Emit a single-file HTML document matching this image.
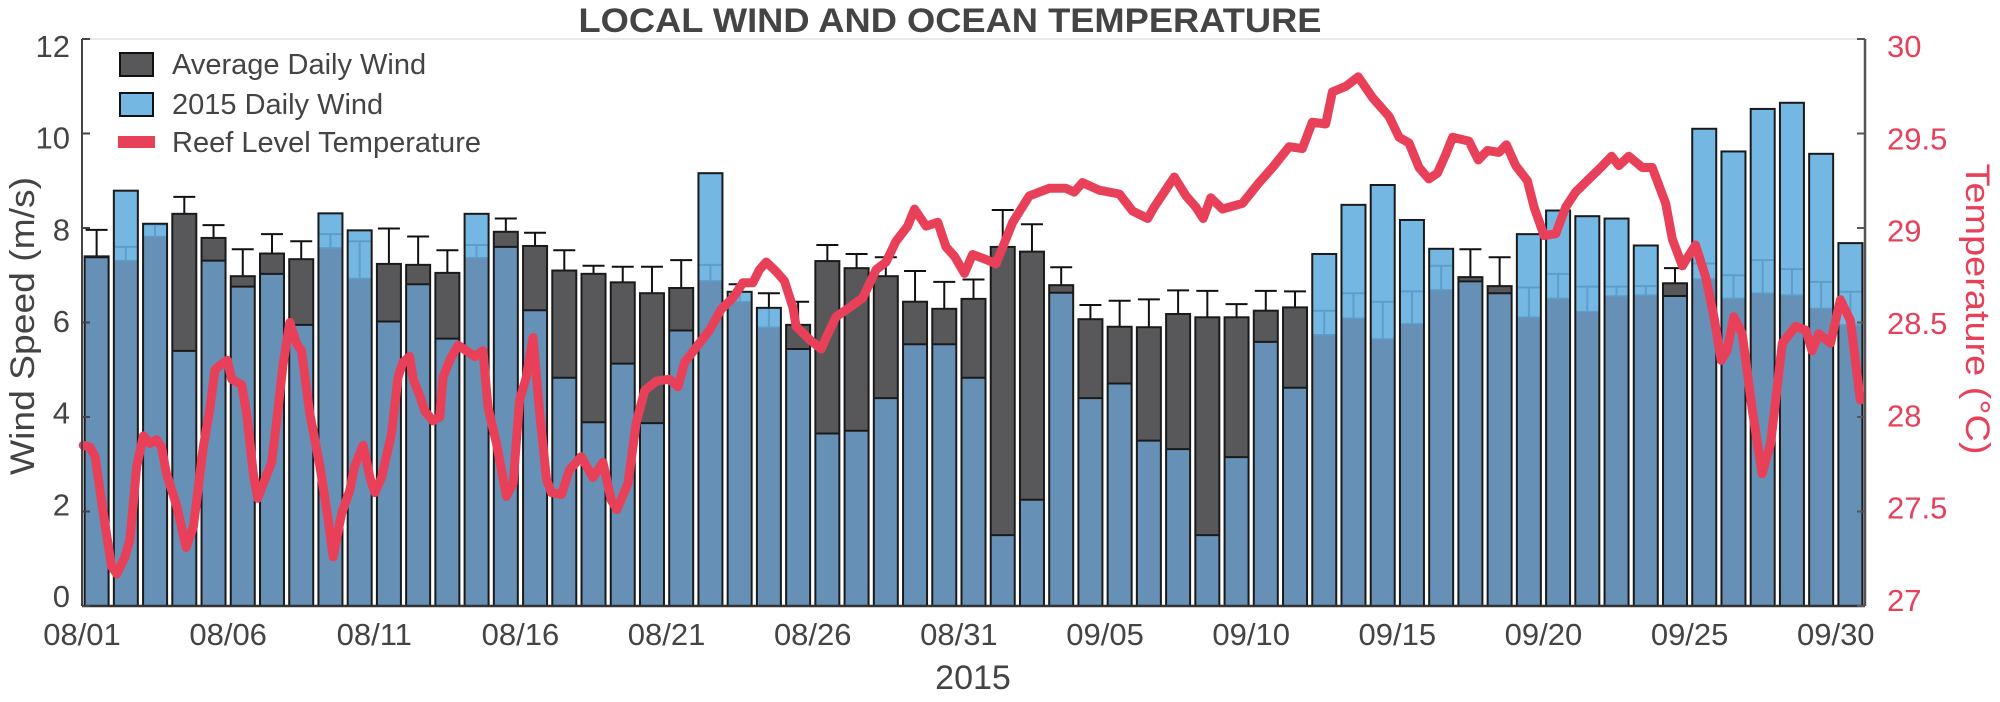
<!DOCTYPE html>
<html><head><meta charset="utf-8"><title>Local Wind and Ocean Temperature</title>
<style>html,body{margin:0;padding:0;background:#fff}svg{display:block}text{font-family:"Liberation Sans",Arial,sans-serif}</style>
</head><body>
<svg id="chart" width="2000" height="702" viewBox="0 0 2000 702" xmlns="http://www.w3.org/2000/svg">
<text x="950" y="32" text-anchor="middle" font-size="34" font-weight="bold" fill="#444" textLength="743" lengthAdjust="spacingAndGlyphs">LOCAL WIND AND OCEAN TEMPERATURE</text>
<g id="bars"></g>
<g id="temp"></g>
<g id="axes"></g>
<text transform="translate(34,326) rotate(-90)" text-anchor="middle" font-size="34" fill="#444" textLength="298" lengthAdjust="spacingAndGlyphs">Wind Speed (m/s)</text>
<text transform="translate(1966,309) rotate(90)" text-anchor="middle" font-size="34" fill="#e9405a" textLength="291" lengthAdjust="spacingAndGlyphs">Temperature (°C)</text>
<text x="973" y="689" text-anchor="middle" font-size="34" fill="#444">2015</text>
<g>
  <g>
    <rect x="120" y="53" width="33" height="23" fill="#58585a" stroke="#111" stroke-width="2"/>
    <text x="172" y="74" font-size="29" fill="#444">Average Daily Wind</text>
  </g>
  <g>
    <rect x="120" y="93" width="33" height="23" fill="#75b7e3" stroke="#111" stroke-width="2"/>
    <text x="172" y="114" font-size="29" fill="#444">2015 Daily Wind</text>
  </g>
  <g>
    <rect x="118" y="136" width="37" height="12" fill="#e9405a"/>
    <text x="172" y="152" font-size="29" fill="#444">Reef Level Temperature</text>
  </g>
</g>
</svg>
<script>
const dayLabels = ["08/01","08/06","08/11","08/16","08/21","08/26","08/31","09/05","09/10","09/15","09/20","09/25","09/30"];
const dayTickIdx = [0,5,10,15,20,25,30,35,40,45,50,55,60];
const windTicks = [0,2,4,6,8,10,12];
const tempTicks = [27,27.5,28,28.5,29,29.5,30];
const tempTickLabels = ["27","27.5","28","28.5","29","29.5","30"];
const avgWind = [7.40,7.31,7.82,8.30,7.79,6.98,7.46,7.34,7.58,6.93,7.24,7.22,7.05,7.37,7.92,7.62,7.10,7.03,6.85,6.62,6.73,6.88,6.44,5.90,5.95,7.30,7.15,6.98,6.44,6.29,6.50,7.60,7.50,6.79,6.07,5.91,5.90,6.18,6.11,6.11,6.25,6.32,5.74,6.09,5.65,5.97,6.69,6.96,6.77,6.11,6.51,6.23,6.56,6.58,6.83,6.92,6.51,6.62,6.58,6.30,5.95];
const wind2015 = [7.38,8.79,8.09,5.40,7.31,6.76,7.03,5.95,8.31,7.95,6.02,6.81,5.66,8.30,7.60,6.26,4.83,3.89,5.13,3.87,5.83,9.16,6.65,6.31,5.44,3.65,3.71,4.40,5.54,5.54,4.83,1.50,2.25,6.63,4.40,4.71,3.50,3.32,1.50,3.15,5.59,4.62,7.45,8.49,8.91,8.17,7.56,6.87,6.62,7.87,8.37,8.25,8.20,7.63,6.56,10.10,9.62,10.52,10.65,9.57,7.68];
const errTop = [7.96,7.60,8.07,8.66,8.06,7.55,7.87,7.72,7.87,7.72,7.99,7.82,7.53,7.64,8.20,7.90,7.53,7.20,7.18,7.18,7.32,7.22,6.81,6.62,6.44,7.64,7.45,7.38,7.09,6.86,6.91,8.38,8.08,7.17,6.37,6.46,6.49,6.68,6.67,6.39,6.67,6.66,6.25,6.62,6.44,6.66,7.20,7.55,7.38,6.74,7.03,6.76,6.76,6.77,7.15,7.25,7.00,7.32,7.13,6.86,6.65];
const tempTime = [0.04,0.27,0.45,0.73,1.01,1.19,1.47,1.64,1.87,2.10,2.32,2.55,2.72,2.89,3.24,3.56,3.81,4.15,4.38,4.55,4.78,4.97,5.12,5.46,5.63,5.86,6.01,6.26,6.49,6.66,6.88,7.11,7.34,7.51,7.79,8.14,8.42,8.59,8.88,9.16,9.33,9.62,9.85,10.02,10.25,10.59,10.81,10.98,11.21,11.33,11.56,11.73,12.01,12.24,12.35,12.58,12.87,13.15,13.44,13.72,13.89,14.18,14.52,14.75,14.97,15.20,15.43,15.66,15.89,16.06,16.40,16.68,17.08,17.48,17.82,18.11,18.30,18.68,18.96,19.25,19.65,20.10,20.39,20.62,21.02,21.47,21.87,22.27,22.61,22.95,23.18,23.41,23.75,24.03,24.32,24.43,24.89,25.29,25.46,25.80,26.26,26.71,27.17,27.51,27.85,28.25,28.48,28.88,29.28,29.56,29.85,30.19,30.47,30.98,31.27,31.84,32.41,33.09,33.66,33.95,34.23,34.80,35.49,35.94,36.46,36.68,37.37,37.77,38.11,38.36,38.62,39.02,39.70,40.27,40.73,41.30,41.75,42.09,42.55,42.78,43.24,43.66,44.15,44.72,45.06,45.40,45.74,46.08,46.37,46.66,46.89,47.45,47.77,48.08,48.48,48.73,49.05,49.45,49.68,50.02,50.42,50.76,51.10,51.56,51.96,52.33,52.58,52.92,53.38,53.72,54.18,54.41,54.75,55.20,55.55,55.83,56.08,56.28,56.51,56.80,57.14,57.48,57.77,58.17,58.63,58.97,59.19,59.42,59.82,60.16,60.50,60.84];
const tempValues = [27.85,27.84,27.79,27.49,27.21,27.17,27.26,27.35,27.74,27.90,27.86,27.88,27.84,27.70,27.53,27.31,27.42,27.84,28.05,28.25,28.28,28.30,28.20,28.17,28.02,27.70,27.57,27.67,27.76,27.98,28.28,28.50,28.39,28.35,28.02,27.74,27.46,27.26,27.49,27.61,27.74,27.85,27.68,27.60,27.68,27.91,28.21,28.29,28.32,28.20,28.11,28.03,27.98,28.00,28.21,28.30,28.38,28.35,28.32,28.35,28.05,27.86,27.58,27.65,28.09,28.21,28.42,28.02,27.67,27.60,27.59,27.72,27.79,27.68,27.76,27.56,27.51,27.65,27.97,28.14,28.19,28.20,28.16,28.29,28.37,28.46,28.57,28.63,28.71,28.71,28.78,28.82,28.77,28.72,28.58,28.48,28.41,28.36,28.42,28.53,28.58,28.63,28.78,28.82,28.93,29.01,29.10,29.01,29.03,28.90,28.85,28.76,28.86,28.83,28.81,29.03,29.17,29.21,29.21,29.19,29.24,29.20,29.18,29.09,29.05,29.11,29.27,29.17,29.11,29.05,29.16,29.10,29.13,29.24,29.32,29.43,29.42,29.56,29.55,29.72,29.75,29.80,29.69,29.59,29.48,29.45,29.32,29.26,29.29,29.39,29.48,29.46,29.36,29.41,29.40,29.44,29.33,29.25,29.11,28.96,28.97,29.11,29.19,29.26,29.32,29.38,29.33,29.38,29.32,29.32,29.13,28.94,28.80,28.91,28.74,28.53,28.30,28.35,28.53,28.44,28.04,27.70,27.86,28.39,28.48,28.46,28.35,28.44,28.39,28.62,28.51,28.09];

const NS = "http://www.w3.org/2000/svg";
const X0 = 82, X1 = 1865, Y0 = 606, Y1 = 39;
const nDays = avgWind.length;
function xScale(t){ return X0 + t * (X1 - X0) / nDays; }
function yWind(v){ return Y0 - v * (Y0 - Y1) / 12; }
function yTemp(T){ return Y0 - (T - 27) * (Y0 - Y1) / 3; }
function mk(tag, attrs, parent){ const e = document.createElementNS(NS, tag); for (const k in attrs) e.setAttribute(k, attrs[k]); parent.appendChild(e); return e; }

const bars = document.getElementById('bars');
const BW = 24;
for (let i = 0; i < nDays; i++) {
  const cx = xScale(i + 0.5), x = cx - BW / 2;
  const a = avgWind[i], w = wind2015[i], lo = Math.min(a, w), hi = Math.max(a, w);
  const g = mk('g', {}, bars);
  
  
  mk('rect', {x: x, y: yWind(lo), width: BW, height: yWind(0) - yWind(lo), fill: '#6690b6'}, g);
  mk('rect', {x: x, y: yWind(hi), width: BW, height: yWind(lo) - yWind(hi), fill: a > w ? '#58585a' : '#75b7e3'}, g);
  mk('line', {x1: x, x2: x + BW, y1: yWind(lo), y2: yWind(lo), stroke: a > w ? '#1a1a1a' : '#5f9dc9', 'stroke-width': a > w ? 2 : 1.5}, g);
  // error bar
  const e = errTop[i], ya = yWind(a), ye = yWind(e), yh = yWind(hi);
  if (w > a) {
    const faintTop = Math.max(ye, yh);
    mk('line', {x1: cx, x2: cx, y1: ya, y2: faintTop, stroke: '#5f9dc9', 'stroke-width': 2}, g);
    if (e <= w) mk('line', {x1: cx - 11, x2: cx + 11, y1: ye, y2: ye, stroke: '#5f9dc9', 'stroke-width': 2}, g);
    else { mk('line', {x1: cx, x2: cx, y1: yh, y2: ye, stroke: '#111', 'stroke-width': 2}, g);
           mk('line', {x1: cx - 11, x2: cx + 11, y1: ye, y2: ye, stroke: '#111', 'stroke-width': 2}, g); }
  } else {
    mk('line', {x1: cx, x2: cx, y1: ya, y2: ye, stroke: '#111', 'stroke-width': 2}, g);
    mk('line', {x1: cx - 11, x2: cx + 11, y1: ye, y2: ye, stroke: '#111', 'stroke-width': 2}, g);
  }
  mk('rect', {x: x, y: yh, width: BW, height: yWind(0) - yh, fill: 'none', stroke: '#1a1a1a', 'stroke-width': 2}, g);
}

const tg = document.getElementById('temp');
let d = '';
for (let i = 0; i < tempTime.length; i++) d += (i ? 'L' : 'M') + xScale(tempTime[i]).toFixed(1) + ',' + yTemp(tempValues[i]).toFixed(1);
const tp = mk('path', {d: d, fill: 'none', stroke: '#e9405a', 'stroke-width': 9, 'stroke-linejoin': 'round', 'stroke-linecap': 'round'}, tg);



const ax = document.getElementById('axes');
mk('line', {x1: X0, x2: X1, y1: Y1, y2: Y1, stroke: '#e2e2e2', 'stroke-width': 1.5}, ax);
const la = mk('line', {x1: X0, x2: X0, y1: Y1, y2: Y0, stroke: '#444', 'stroke-width': 2}, ax);


const ra = mk('line', {x1: X1, x2: X1, y1: Y1, y2: Y0, stroke: '#555', 'stroke-width': 2.5}, ax);


const ba = mk('line', {x1: X0, x2: X1, y1: Y0, y2: Y0, stroke: '#333', 'stroke-width': 2.5}, ax);


for (const v of windTicks) {
  const y = yWind(v);
  mk('line', {x1: X0, x2: X0 + 8, y1: y, y2: y, stroke: '#444', 'stroke-width': 2}, ax);
  const c = 46 + (y - Y1) * (550 / 567);
  const t = mk('text', {x: 70, y: c + 11, 'text-anchor': 'end', 'font-size': 31, fill: '#444'}, ax);
  
  
  t.textContent = String(v);
}
for (let i = 0; i < tempTicks.length; i++) {
  const y = yTemp(tempTicks[i]);
  mk('line', {x1: X1 - 8, x2: X1, y1: y, y2: y, stroke: '#555', 'stroke-width': 2}, ax);
  const c = 46 + (y - Y1) * (554 / 567);
  const t = mk('text', {x: 1887, y: c + 11, 'font-size': 31, fill: '#e9405a'}, ax);
  
  
  t.textContent = tempTickLabels[i];
}
for (let i = 0; i < dayLabels.length; i++) {
  const x = xScale(dayTickIdx[i]);
  const t = mk('text', {x: x, y: 645, 'text-anchor': 'middle', 'font-size': 31, fill: '#444'}, ax);
  
  
  t.textContent = dayLabels[i];
}
</script>
</body></html>
